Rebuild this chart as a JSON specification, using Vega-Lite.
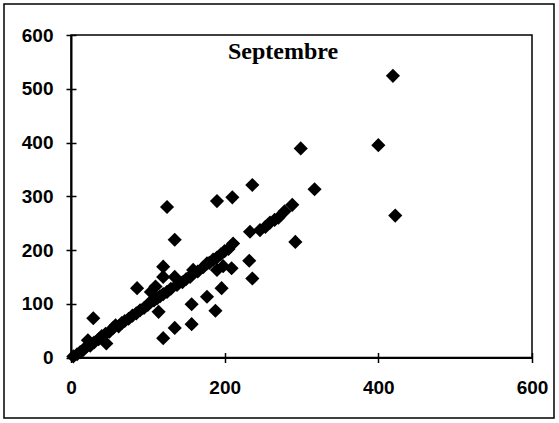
{
  "$schema": "https://vega.github.io/schema/vega-lite/v6.json",
  "width": 550,
  "height": 414,
  "autosize": {"type": "none"},
  "padding": {"left": 4, "top": 4, "right": 5, "bottom": 5},
  "background": "white",
  "config": {
    "view": {"stroke": "black", "strokeWidth": 1.5},
    "axis": {
      "grid": false,
      "domainColor": "black",
      "domainWidth": 2,
      "tickColor": "black",
      "tickWidth": 1.5,
      "tickSize": 5,
      "labelFont": "Liberation Sans",
      "labelFontWeight": "bold",
      "labelFontSize": 19,
      "labelColor": "black",
      "labelFlush": false,
      "labelOverlap": false,
      "labelBound": false,
      "title": null
    }
  },
  "title": {
    "text": "Septembre",
    "font": "Liberation Serif",
    "fontSize": 24,
    "fontWeight": "bold",
    "color": "black",
    "anchor": "middle",
    "frame": "group",
    "offset": -79,
    "baseline": "alphabetic",
    "dx": 4
  },
  "resolve": {"axis": {"x": "independent", "y": "independent"}},
  "layer": [
    {
      "data": {"values": [{"x0": 0, "x1": 600, "y0": 0, "y1": 600}]},
      "mark": {"type": "rect", "fill": null, "stroke": "black", "strokeWidth": 1.5},
      "encoding": {
        "x": {
          "field": "x0",
          "type": "quantitative",
          "axis": {"orient": "bottom", "offset": -60.5, "values": [0, 200, 400, 600], "labels": false, "domain": false, "tickSize": -5}
        },
        "x2": {"field": "x1"},
        "y": {
          "field": "y0",
          "type": "quantitative",
          "axis": {"orient": "left", "offset": -67, "values": [0, 100, 200, 300, 400, 500, 600], "labels": false, "domain": false, "tickSize": -5}
        },
        "y2": {"field": "y1"}
      }
    },
    {
      "data": {
        "values": [
          {"x": 419, "y": 524}, {"x": 422, "y": 264}, {"x": 400, "y": 395},
          {"x": 299, "y": 389}, {"x": 317, "y": 313}, {"x": 236, "y": 321},
          {"x": 210, "y": 298}, {"x": 190, "y": 291}, {"x": 125, "y": 280},
          {"x": 288, "y": 284}, {"x": 278, "y": 272}, {"x": 292, "y": 215},
          {"x": 135, "y": 219}, {"x": 233, "y": 234}, {"x": 232, "y": 180},
          {"x": 236, "y": 147}, {"x": 209, "y": 166}, {"x": 196, "y": 129},
          {"x": 177, "y": 113}, {"x": 188, "y": 87}, {"x": 157, "y": 99},
          {"x": 157, "y": 62}, {"x": 135, "y": 55}, {"x": 120, "y": 36},
          {"x": 114, "y": 85}, {"x": 86, "y": 129}, {"x": 120, "y": 169},
          {"x": 120, "y": 150}, {"x": 135, "y": 150}, {"x": 29, "y": 73},
          {"x": 46, "y": 26}, {"x": 22, "y": 32}, {"x": 211, "y": 212},
          {"x": 3, "y": 2}, {"x": 8, "y": 6}, {"x": 12, "y": 10},
          {"x": 16, "y": 14}, {"x": 20, "y": 20}, {"x": 25, "y": 22},
          {"x": 30, "y": 28}, {"x": 36, "y": 34}, {"x": 40, "y": 40},
          {"x": 45, "y": 44}, {"x": 50, "y": 48}, {"x": 55, "y": 55},
          {"x": 58, "y": 60}, {"x": 62, "y": 58}, {"x": 66, "y": 64},
          {"x": 70, "y": 68}, {"x": 75, "y": 72}, {"x": 80, "y": 78},
          {"x": 85, "y": 82}, {"x": 90, "y": 88}, {"x": 95, "y": 92},
          {"x": 100, "y": 98}, {"x": 104, "y": 104}, {"x": 108, "y": 106},
          {"x": 112, "y": 110}, {"x": 116, "y": 114}, {"x": 120, "y": 118},
          {"x": 125, "y": 122}, {"x": 130, "y": 128}, {"x": 138, "y": 135},
          {"x": 145, "y": 140}, {"x": 150, "y": 146}, {"x": 155, "y": 150},
          {"x": 160, "y": 158}, {"x": 165, "y": 160}, {"x": 172, "y": 168},
          {"x": 180, "y": 176}, {"x": 185, "y": 182}, {"x": 190, "y": 186},
          {"x": 195, "y": 192}, {"x": 200, "y": 198}, {"x": 205, "y": 202},
          {"x": 246, "y": 237}, {"x": 253, "y": 243}, {"x": 259, "y": 251},
          {"x": 265, "y": 256}, {"x": 270, "y": 260},
          {"x": 104, "y": 122}, {"x": 110, "y": 132}, {"x": 159, "y": 163},
          {"x": 177, "y": 175}, {"x": 190, "y": 163}, {"x": 198, "y": 170}
        ]
      },
      "mark": {"type": "point", "shape": "diamond", "filled": true, "color": "black", "opacity": 1, "size": 200},
      "encoding": {
        "x": {
          "field": "x",
          "type": "quantitative",
          "scale": {"domain": [0, 600], "range": [67, 528], "nice": false, "zero": false},
          "axis": {"orient": "bottom", "offset": -60.5, "values": [0, 200, 400, 600], "labelPadding": 16}
        },
        "y": {
          "field": "y",
          "type": "quantitative",
          "scale": {"domain": [0, 600], "range": [353.5, 31], "nice": false, "zero": false},
          "axis": {"orient": "left", "offset": -67, "values": [0, 100, 200, 300, 400, 500, 600], "labelPadding": 13}
        }
      }
    }
  ]
}
